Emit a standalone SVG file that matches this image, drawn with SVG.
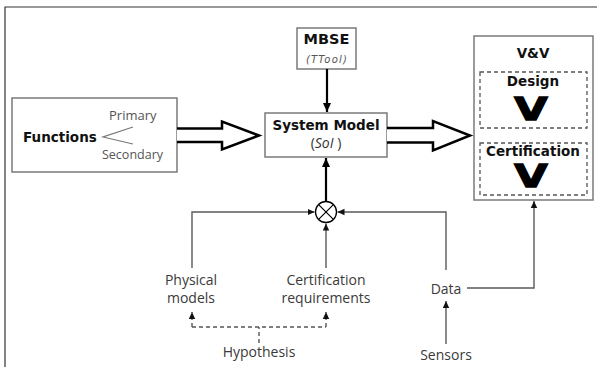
<svg xmlns="http://www.w3.org/2000/svg" width="597" height="367" viewBox="0 0 597 367">
  <style>
    .box { fill: #ffffff; stroke: #7a7a7a; stroke-width: 1.5; }
    .dash { fill: none; stroke: #555555; stroke-width: 1.3; stroke-dasharray: 4 3; }
    .bold { font-family: "DejaVu Sans", "Liberation Sans", sans-serif; font-weight: bold; fill: #111111; }
    .bigv { font-family: "DejaVu Sans", "Liberation Sans", sans-serif; font-weight: bold; font-size: 32px; fill: #000000; stroke: #000000; stroke-width: 1.3; text-anchor: middle; }
    .lbl { font-family: "Open Sans", "Liberation Sans", sans-serif; fill: #3a3a3a; font-size: 14px; text-anchor: middle; }
    .hollow { fill: #ffffff; stroke: #000000; stroke-width: 2.5; stroke-linejoin: miter; }
    .thin { fill: none; stroke: #5a5a5a; stroke-width: 1.4; }
    .thick { fill: none; stroke: #000000; stroke-width: 2.2; }
    .hyp { fill: none; stroke: #555555; stroke-width: 1.4; stroke-dasharray: 4 3; }
  </style>
  <defs>
    <marker id="tipGray" markerUnits="userSpaceOnUse" markerWidth="8" markerHeight="8" viewBox="0 0 8 8" refX="7" refY="4" orient="auto">
      <path d="M0,0.8 L7,4 L0,7.2 Z" fill="#111111"/>
    </marker>
    <marker id="tipBlack" markerUnits="userSpaceOnUse" markerWidth="10" markerHeight="10" viewBox="0 0 10 10" refX="9" refY="5" orient="auto">
      <path d="M0,1 L9,5 L0,9 Z" fill="#000000"/>
    </marker>
  </defs>

  <!-- page frame -->
  <path d="M5,367 V7 H597" fill="none" stroke="#333333" stroke-width="1.2"/>

  <!-- Functions -->
  <g id="functions">
    <rect class="box" x="12" y="98" width="165" height="74"/>
    <text class="bold" x="23" y="142" font-size="13.5">Functions</text>
    <path d="M133,127 L103,137 L133,144" fill="none" stroke="#777777" stroke-width="1.2"/>
    <text x="109" y="120" font-family="Open Sans, Liberation Sans, sans-serif" font-size="13" fill="#555555">Primary</text>
    <text x="102" y="159" font-family="Open Sans, Liberation Sans, sans-serif" font-size="12.5" fill="#555555">Secondary</text>
  </g>

  <!-- MBSE -->
  <g id="mbse">
    <rect class="box" x="297" y="28" width="59" height="41"/>
    <text class="bold" x="326.5" y="44" font-size="14.5" text-anchor="middle">MBSE</text>
    <text x="327" y="63" font-family="DejaVu Sans, sans-serif" font-style="italic" font-size="10" letter-spacing="1.2" fill="#555555" text-anchor="middle">(TTool)</text>
  </g>

  <!-- System Model -->
  <g id="system-model">
    <rect class="box" x="265" y="113" width="122" height="44"/>
    <text class="bold" x="326" y="130" font-size="13.5" text-anchor="middle">System Model</text>
    <text x="326" y="148" font-family="Open Sans, Liberation Sans, sans-serif" font-size="14" fill="#333333" text-anchor="middle">(<tspan font-style="italic">SoI</tspan> )</text>
  </g>

  <!-- V&V -->
  <g id="vv">
    <rect class="box" x="474" y="36" width="119" height="164"/>
    <text class="bold" x="533" y="58" font-size="13.5" text-anchor="middle">V&amp;V</text>
    <g id="vv-design">
      <rect class="dash" x="480" y="72" width="107" height="56"/>
      <text class="bold" x="533" y="86" font-size="13.5" text-anchor="middle">Design</text>
      <text class="bigv" transform="translate(531,120) scale(1.35,1)" x="0" y="0">V</text>
    </g>
    <g id="vv-certification">
      <rect class="dash" x="480" y="143" width="107" height="52"/>
      <text class="bold" x="533" y="156" font-size="13.5" text-anchor="middle">Certification</text>
      <text class="bigv" transform="translate(531,187) scale(1.35,1)" x="0" y="0">V</text>
    </g>
  </g>

  <!-- summing junction -->
  <g id="junction">
    <circle cx="326" cy="212" r="10.5" fill="#ffffff" stroke="#000000" stroke-width="1.3"/>
    <path d="M318.6,204.6 L333.4,219.4 M333.4,204.6 L318.6,219.4" stroke="#000000" stroke-width="1.2"/>
  </g>

  <!-- inputs and sources -->
  <g id="physical-models">
    <text class="lbl" x="191" y="285">Physical</text>
    <text class="lbl" x="191" y="303">models</text>
  </g>
  <g id="certification-requirements">
    <text class="lbl" x="326" y="285">Certification</text>
    <text class="lbl" x="326" y="303">requirements</text>
  </g>
  <g id="hypothesis">
    <text class="lbl" x="259" y="357">Hypothesis</text>
  </g>
  <g id="data">
    <text class="lbl" x="446" y="294">Data</text>
  </g>
  <g id="sensors">
    <text class="lbl" x="446" y="360">Sensors</text>
  </g>

  <!-- connectors -->
  <g id="connectors">
    <!-- wide flow arrows -->
    <path class="hollow" d="M177,128.5 H222 V121.5 L259,135.5 L222,149.5 V142 H177"/>
    <path class="hollow" d="M387,128 H433 V121 L470,135.5 L433,150.5 V142.5 H387"/>
    <!-- MBSE to system model -->
    <line class="thick" x1="327" y1="69" x2="327" y2="112" marker-end="url(#tipBlack)"/>
    <!-- junction to system model -->
    <line class="thick" x1="326" y1="201.5" x2="326" y2="158" marker-end="url(#tipBlack)"/>
    <!-- physical models to junction -->
    <path class="thin" d="M192,268 V212 H314.5" marker-end="url(#tipGray)"/>
    <!-- certification requirements to junction -->
    <line class="thin" x1="326" y1="268" x2="326" y2="223.5" marker-end="url(#tipGray)"/>
    <!-- data to junction -->
    <path class="thin" d="M446,270 V212 H337.5" marker-end="url(#tipGray)"/>
    <!-- data to V&V -->
    <path class="thin" d="M467,288 H534 V201" marker-end="url(#tipGray)"/>
    <!-- sensors to data -->
    <line class="thin" x1="446" y1="344" x2="446" y2="301" marker-end="url(#tipGray)"/>
    <!-- hypothesis feeds -->
    <path class="hyp" d="M259,343 V327"/>
    <path class="hyp" d="M192,327 H326"/>
    <line class="hyp" x1="192" y1="327" x2="192" y2="312" marker-end="url(#tipGray)"/>
    <line class="hyp" x1="326" y1="327" x2="326" y2="312" marker-end="url(#tipGray)"/>
  </g>
</svg>
